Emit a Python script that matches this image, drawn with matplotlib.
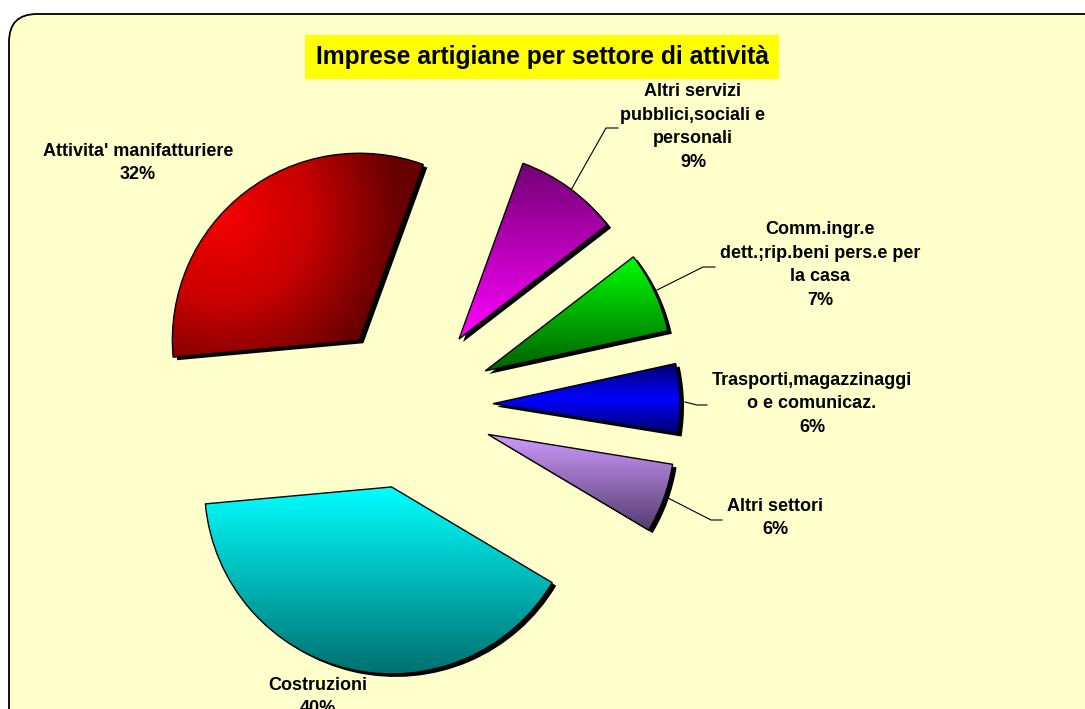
"""Exploded pie: imprese artigiane per settore di attività."""

import numpy as np
import matplotlib.pyplot as plt
from matplotlib.patches import FancyBboxPatch

plt.rcParams['font.family'] = ['Liberation Sans', 'DejaVu Sans']

TITLE = "Imprese artigiane per settore di attività"

SECTORS = [
    "Altri servizi\npubblici,sociali e\npersonali",
    "Comm.ingr.e\ndett.;rip.beni pers.e per\nla casa",
    "Trasporti,magazzinaggi\no e comunicaz.",
    "Altri settori",
    "Costruzioni",
    "Attivita' manifatturiere",
]
SHARES = [9, 7, 6, 6, 40, 32]

# gradient stops per slice (top -> bottom), red one is radial
GRADIENTS = [
    [(115, 0, 115), (255, 0, 255)],
    [(0, 255, 0), (0, 95, 0)],
    [(0, 0, 105), (0, 0, 255), (0, 0, 105)],
    [(205, 155, 255), (85, 60, 110)],
    [(0, 255, 255), (0, 112, 112)],
    None,
]

# label positions (pixel-like data coords, y up) and leader lines
LABEL_POS = [(693, 582), (820, 444), (812, 305), (775, 191), (318, 12), (138, 546)]
LEADERS = [
    [(571, 519), (606, 581), (618, 581)],
    [(657, 419), (703, 442), (715, 442)],
    [(685, 307), (697, 304), (707, 304)],
    [(668, 211), (711, 189), (722, 189)],
    None,
    None,
]

W, H = 1085, 709
CENTER = (410, 303)
RADIUS = 187
EXPLODE = 83


def stops_color(stops, t):
    stops = np.array(stops, dtype=float) / 255.0
    pos = np.linspace(0, 1, len(stops))
    return np.stack([np.interp(t, pos, stops[:, k]) for k in range(3)], axis=-1)


def main():
    fig = plt.figure(figsize=(W / 100, H / 100), dpi=100)
    fig.patch.set_facecolor("white")
    ax = fig.add_axes([0, 0, 1, 1])

    frame = FancyBboxPatch((9, -40), 1120, H - 14 + 40,
                           boxstyle="round,pad=0,rounding_size=28",
                           fc="#FFFFCC", ec="black", lw=1.3, zorder=0)
    ax.add_patch(frame)

    # shadow
    ax.pie(SHARES, colors=["black"] * len(SHARES), startangle=70, counterclock=False,
           radius=RADIUS, center=(CENTER[0] + 4, CENTER[1] - 3),
           explode=[EXPLODE] * len(SHARES), frame=True,
           wedgeprops=dict(linewidth=0, zorder=1))

    wedges, _ = ax.pie(SHARES, colors=["none"] * len(SHARES), startangle=70,
                       counterclock=False, radius=RADIUS, center=CENTER,
                       explode=[EXPLODE] * len(SHARES), frame=True,
                       wedgeprops=dict(linewidth=1.0, edgecolor="black", zorder=3))

    for w, grad in zip(wedges, GRADIENTS):
        bb = w.get_path().get_extents()
        x0, y0, x1, y1 = bb.x0, bb.y0, bb.x1, bb.y1
        nx, ny = 200, 200
        xs = np.linspace(x0, x1, nx)
        ys = np.linspace(y1, y0, ny)
        X, Y = np.meshgrid(xs, ys)
        if grad is None:
            hx, hy = 223, H - 217
            d = np.clip(np.hypot(X - hx, Y - hy) / 175.0, 0, 1)
            img = stops_color([(245, 0, 0), (200, 0, 0), (105, 0, 0)], d)
        else:
            t = (y1 - Y) / (y1 - y0)
            img = stops_color(grad, t)
        ax.imshow(img, extent=(x0, x1, y0, y1), origin="upper", aspect="auto",
                  interpolation="bilinear", clip_path=w, zorder=2)

    total = sum(SHARES)
    for name, v, pos, lead in zip(SECTORS, SHARES, LABEL_POS, LEADERS):
        ax.text(pos[0], pos[1], f"{name}\n{v / total * 100:.0f}%", ha="center", va="center",
                fontsize=13, fontweight="bold", linespacing=1.5, zorder=5)
        if lead:
            xs, ys = zip(*lead)
            ax.plot(xs, ys, color="black", lw=0.8, zorder=4)

    ax.text(542, 652, TITLE, ha="center", va="center", fontsize=17.7, fontweight="bold",
            bbox=dict(boxstyle="square,pad=0.42", fc="#FFFF00", ec="none"), zorder=5)

    ax.set_xlim(0, W)
    ax.set_ylim(0, H)
    ax.set_aspect("equal")
    ax.axis("off")
    fig.savefig("out.png", dpi=100)


if __name__ == "__main__":
    main()
